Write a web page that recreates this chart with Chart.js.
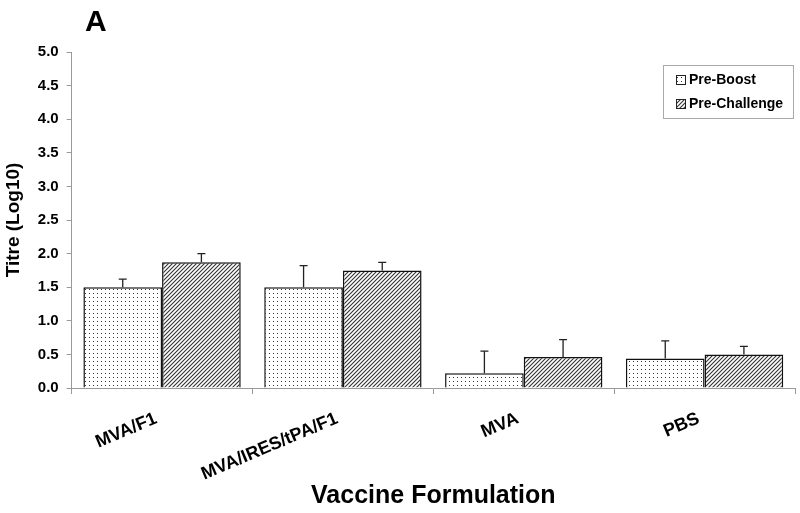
<!DOCTYPE html>
<html>
<head>
<meta charset="utf-8">
<script src="https://cdn.jsdelivr.net/npm/chart.js@4"></script>
<style>
  html, body { margin: 0; padding: 0; background: #fff; }
  #wrap { width: 800px; height: 513px; }
</style>
</head>
<body>
<div id="wrap"><canvas id="titreChart" width="800" height="513"></canvas></div>
<script>
const categories = ["MVA/F1", "MVA/IRES/tPA/F1", "MVA", "PBS"];
const seriesNames = ["Pre-Boost", "Pre-Challenge"];
const preBoost = [1.5, 1.5, 0.22, 0.44];
const preChallenge = [1.87, 1.75, 0.46, 0.5];
// top of each error bar (upper only)
const preBoostErr = [1.62, 1.82, 0.55, 0.7];
const preChallengeErr = [2.0, 1.87, 0.72, 0.62];
const yTicks = [0, 0.5, 1, 1.5, 2, 2.5, 3, 3.5, 4, 4.5, 5];

const FONT = "'Liberation Sans', Arial, sans-serif";

// dotted fill
function dotPattern() {
  const c = document.createElement("canvas");
  c.width = 4; c.height = 4;
  const g = c.getContext("2d");
  g.fillStyle = "#fff";
  g.fillRect(0, 0, 4, 4);
  g.fillStyle = "#333";
  g.fillRect(1, 1, 1, 1);
  return g.createPattern(c, "repeat");
}

// diagonal hatch fill
function hatchPattern() {
  const s = 4;
  const c = document.createElement("canvas");
  c.width = s; c.height = s;
  const g = c.getContext("2d");
  g.fillStyle = "#fff";
  g.fillRect(0, 0, s, s);
  g.strokeStyle = "#333";
  g.lineWidth = 1.1;
  g.beginPath();
  g.moveTo(-1, s + 1); g.lineTo(s + 1, -1);
  g.moveTo(-1, 1); g.lineTo(1, -1);
  g.moveTo(s - 1, s + 1); g.lineTo(s + 1, s - 1);
  g.stroke();
  return g.createPattern(c, "repeat");
}

const fills = [dotPattern(), hatchPattern()];
const errTops = [preBoostErr, preChallengeErr];

const ctx = document.getElementById("titreChart").getContext("2d");

new Chart(ctx, {
  type: "bar",
  data: {
    labels: categories,
    datasets: [
      {
        label: seriesNames[0],
        data: preBoost,
        backgroundColor: fills[0],
        borderColor: "#111",
        borderWidth: 1.5,
        borderSkipped: "bottom",
      },
      {
        label: seriesNames[1],
        data: preChallenge,
        backgroundColor: fills[1],
        borderColor: "#111",
        borderWidth: 1.5,
        borderSkipped: "bottom",
      },
    ],
  },
  options: {
    responsive: false,
    animation: false,
    devicePixelRatio: 1,
    layout: { padding: { top: 52, right: 5, left: 2, bottom: 0 } },
    datasets: {
      bar: { categoryPercentage: 0.87, barPercentage: 1.0 },
    },
    plugins: {
      legend: { display: false },
      tooltip: { enabled: false },
    },
    scales: {
      x: {
        afterFit: (scale) => {
          scale.height = 125;
        },
        grid: {
          display: true,
          offset: true,
          drawOnChartArea: false,
          tickLength: 6,
          color: "#999",
        },
        border: { color: "#999" },
        ticks: {
          color: "#000",
          font: { family: FONT, size: 18, weight: "bold" },
          minRotation: 23,
          maxRotation: 23,
          padding: 14,
          labelOffset: -6,
        },
        title: {
          display: true,
          text: "Vaccine Formulation",
          color: "#000",
          font: { family: FONT, size: 25, weight: "bold" },
          padding: { top: 0, bottom: 2 },
        },
      },
      y: {
        min: 0,
        max: 5,
        afterBuildTicks: (axis) => {
          axis.ticks = yTicks.map((v) => ({ value: v }));
        },
        grid: {
          drawOnChartArea: false,
          tickLength: 5,
          color: "#999",
        },
        border: { color: "#999" },
        ticks: {
          color: "#000",
          padding: 8,
          font: { family: FONT, size: 15, weight: "bold" },
          callback: (v) => Number(v).toFixed(1),
        },
        title: {
          display: true,
          text: "Titre (Log10)",
          color: "#000",
          font: { family: FONT, size: 19, weight: "bold" },
          padding: { top: 0, bottom: 5 },
        },
      },
    },
  },
  plugins: [
    {
      id: "errorBars",
      afterDatasetsDraw(chart) {
        const { ctx } = chart;
        const y = chart.scales.y;
        ctx.save();
        ctx.strokeStyle = "#222";
        ctx.lineWidth = 1.3;
        chart.data.datasets.forEach((ds, di) => {
          chart.getDatasetMeta(di).data.forEach((bar, i) => {
            const top = y.getPixelForValue(errTops[di][i]);
            ctx.beginPath();
            ctx.moveTo(bar.x, bar.y);
            ctx.lineTo(bar.x, top);
            ctx.moveTo(bar.x - 4, top);
            ctx.lineTo(bar.x + 4, top);
            ctx.stroke();
          });
        });
        ctx.restore();
      },
    },
    {
      id: "boxLegend",
      afterDraw(chart) {
        const { ctx, chartArea } = chart;
        const bx = chartArea.right - 132;
        const by = chartArea.top + 13;
        const bw = 130, bh = 53;
        ctx.save();
        ctx.fillStyle = "#fff";
        ctx.fillRect(bx, by, bw, bh);
        ctx.strokeStyle = "#aaa";
        ctx.lineWidth = 1;
        ctx.strokeRect(bx + 0.5, by + 0.5, bw, bh);
        ctx.font = "bold 14px " + FONT;
        ctx.textBaseline = "middle";
        chart.data.datasets.forEach((ds, i) => {
          const iy = by + 15 + i * 24;
          ctx.fillStyle = ds.backgroundColor;
          ctx.fillRect(bx + 13, iy - 5, 10, 10);
          ctx.strokeStyle = "#222";
          ctx.strokeRect(bx + 13.5, iy - 4.5, 9, 9);
          ctx.fillStyle = "#000";
          ctx.fillText(ds.label, bx + 26, iy);
        });
        // panel letter
        ctx.font = "bold 30px " + FONT;
        ctx.textBaseline = "top";
        ctx.fillText("A", 85, 8);
        ctx.restore();
      },
    },
  ],
});
</script>
</body>
</html>
